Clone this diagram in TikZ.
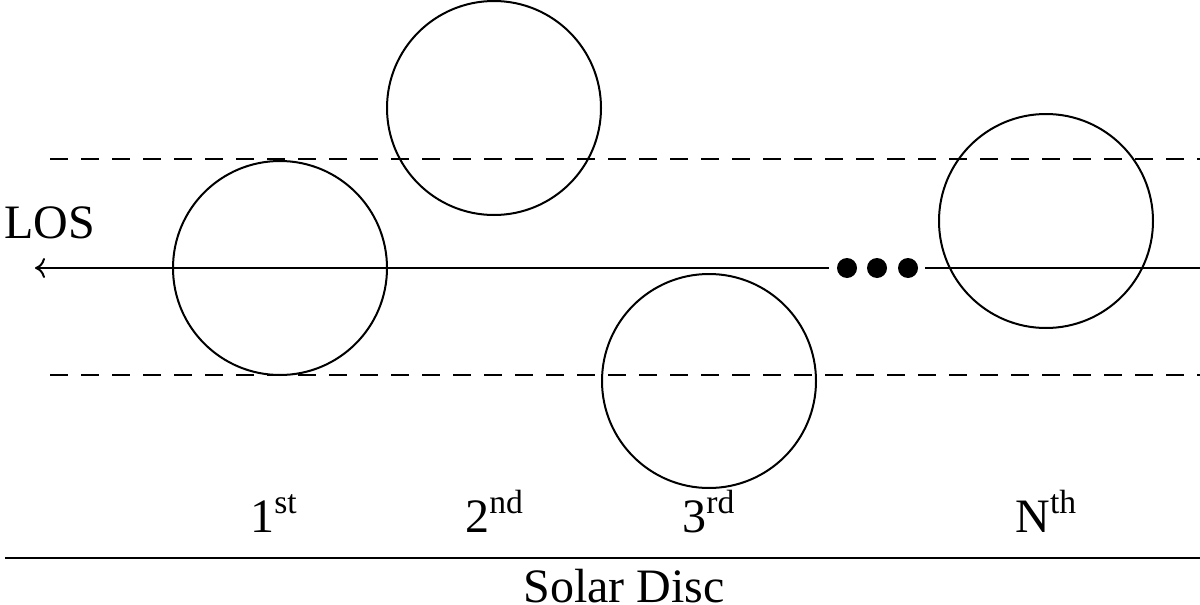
\documentclass[tikz,border=0pt]{standalone}
\usepackage{fontspec}
\setmainfont{Liberation Serif}
\usetikzlibrary{arrows.meta}
\begin{document}
\begin{tikzpicture}[x=0.5pt,y=-0.5pt,
  lw/.style={line width=1pt},
  cell/.style={lw, draw, circle, minimum size=107pt, inner sep=0pt},
  guide/.style={lw, dash pattern=on 9pt off 6.5pt},
  lbl/.style={font=\fontsize{24}{28}\selectfont, inner sep=0pt},
  dotc/.style={fill=black, circle, minimum size=10pt, inner sep=0pt}]
\useasboundingbox (0,0) rectangle (1200,605);
\clip (0,0) rectangle (1200,605);
% guide lines
\coordinate (gt1) at (50,159); \coordinate (gt2) at (1200,159);
\coordinate (gb1) at (50,375); \coordinate (gb2) at (1200,375);
\draw[guide] (gt1) -- (gt2);
\draw[guide] (gb1) -- (gb2);
% circles
\node[cell] (c1) at (280,268) {};
\node[cell] (c2) at (494,108) {};
\node[cell] (c3) at (709,381) {};
\node[cell] (cN) at (1046,221) {};
% LOS line
\coordinate (losR) at (1200,268);
\coordinate (losL) at (35,268);
\node[dotc] (d1) at (847,268) {};
\node[dotc] (d2) at (877,268) {};
\node[dotc] (d3) at (908,268) {};
\coordinate (gapL) at (829,268);
\coordinate (gapR) at (925,268);
\draw[lw] (losR) -- (gapR);
\draw[lw, -{To[length=5pt,width=10pt]}] (gapL) -- (losL);
\node[lbl, anchor=base west] (los) at (4,238) {LOS};
% labels
\node[lbl, anchor=base west] (l1) at (250,532) {1\textsuperscript{st}};
\node[lbl, anchor=base west] (l2) at (465,532) {2\textsuperscript{nd}};
\node[lbl, anchor=base west] (l3) at (682,532) {3\textsuperscript{rd}};
\node[lbl, anchor=base west] (lN) at (1015,532) {N\textsuperscript{th}};
% solar disc
\coordinate (s1) at (5,558); \coordinate (s2) at (1200,558);
\draw[lw] (s1) -- (s2);
\node[lbl, anchor=base] (sd) at (624,602) {Solar Disc};
\end{tikzpicture}
\end{document}
